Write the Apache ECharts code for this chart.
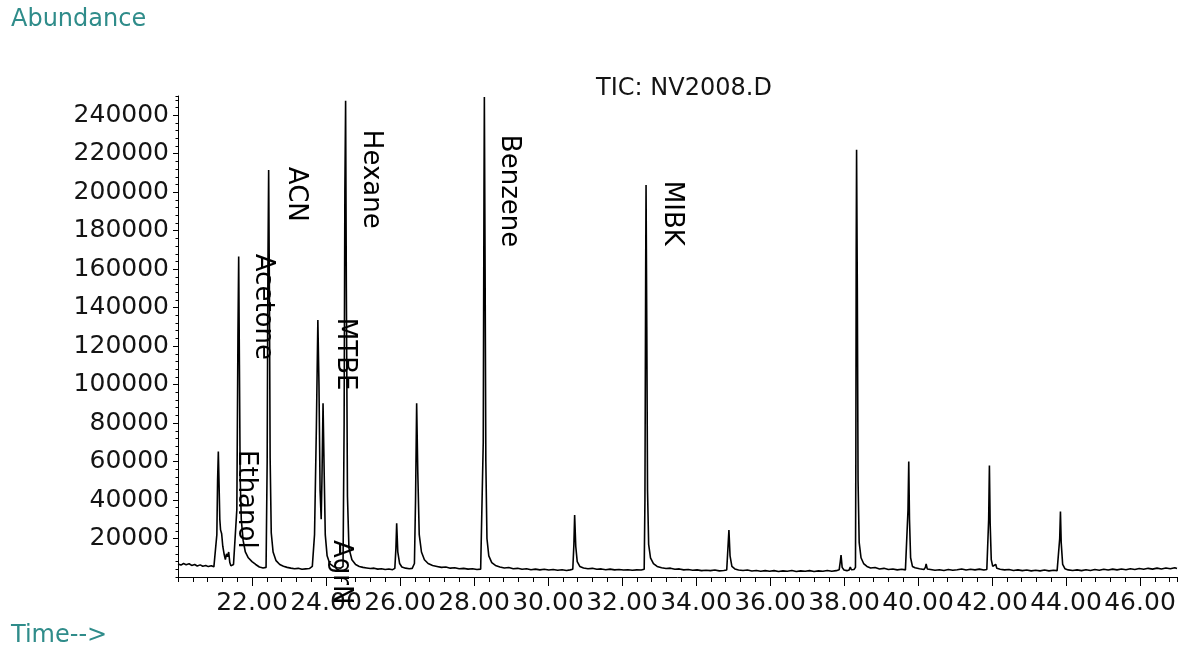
<!DOCTYPE html>
<html>
<head>
<meta charset="utf-8">
<script src="https://cdn.jsdelivr.net/npm/echarts@6/dist/echarts.min.js"></script>
<style>
html,body{margin:0;padding:0;background:#ffffff;}
#chart{width:1184px;height:646px;}
</style>
</head>
<body>
<div id="chart"></div>
<script>
// ---- texts ----
const chartTitle = 'TIC: NV2008.D';
const yAxisTitle = 'Abundance';
const xAxisTitle = 'Time-->';

// ---- total ion chromatogram: [retention time (min), abundance] ----
const ticTrace = [
  [20.00,6800],[20.08,6200],[20.15,7000],[20.22,6400],[20.30,6900],[20.37,6000],[20.45,6500],[20.52,5700],
  [20.60,6300],[20.67,5600],[20.75,6000],[20.82,5400],[20.90,5900],[20.97,5300],[21.02,6000],
  [21.05,22000],[21.07,50000],[21.09,65200],[21.11,48000],[21.13,30000],[21.15,24500],[21.18,22500],
  [21.21,16000],[21.25,11500],[21.28,9000],[21.31,12000],[21.34,10500],[21.37,13000],[21.40,7500],
  [21.43,5800],[21.50,6500],[21.55,7200],
  [21.59,35000],[21.62,125000],[21.64,166600],[21.66,110000],[21.68,52000],[21.71,30000],[21.76,19000],
  [21.82,13000],[21.90,10000],[22.00,8000],[22.10,6500],[22.20,5200],[22.30,4700],[22.38,5000],
  [22.41,60000],[22.43,160000],[22.45,211600],[22.47,150000],[22.49,62000],[22.52,23000],[22.57,13000],
  [22.65,8500],[22.75,6500],[22.85,5600],[22.95,5000],[23.05,4600],[23.15,4300],[23.25,4500],[23.35,4000],
  [23.45,4200],[23.55,4400],[23.63,5500],
  [23.69,22000],[23.74,78000],[23.78,133600],[23.81,100000],[23.84,45000],[23.87,30000],[23.89,50000],
  [23.92,90300],[23.95,55000],[23.98,22000],[24.03,11000],[24.10,7000],[24.20,5500],[24.30,4800],
  [24.40,4600],[24.46,5500],
  [24.49,80000],[24.51,200000],[24.53,247500],[24.55,150000],[24.58,42000],[24.62,15000],[24.70,9000],
  [24.80,6500],[24.90,5500],[25.00,5000],[25.10,4700],[25.20,4400],[25.30,4600],[25.40,4100],[25.50,4300],
  [25.60,3900],[25.70,4200],[25.80,3800],[25.86,4500],
  [25.89,15000],[25.91,27900],[25.94,13000],[25.99,7000],[26.05,5200],[26.15,4600],[26.25,4300],
  [26.33,4500],[26.39,7000],
  [26.42,40000],[26.45,90300],[26.48,55000],[26.52,22000],[26.58,13000],[26.66,9000],[26.76,7000],
  [26.88,6000],[27.00,5500],[27.12,5000],[27.24,5200],[27.36,4600],[27.48,4800],[27.60,4300],[27.72,4500],
  [27.84,4100],[27.96,4300],[28.08,3900],[28.18,4100],[28.23,5000],
  [28.25,70000],[28.27,200000],[28.28,249500],[28.30,160000],[28.32,60000],[28.35,20000],[28.40,11000],
  [28.48,7500],[28.58,6000],[28.70,5200],[28.82,4700],[28.94,4900],[29.06,4300],[29.18,4500],[29.30,4000],
  [29.42,4300],[29.54,3800],[29.66,4100],[29.78,3700],[29.90,4000],[30.02,3600],[30.14,3900],[30.26,3500],
  [30.38,3800],[30.50,3400],[30.60,3700],[30.67,4000],
  [30.70,17000],[30.72,32200],[30.75,16000],[30.79,8000],[30.86,5500],[30.96,4700],[31.08,4300],
  [31.20,4500],[31.32,4000],[31.44,4200],[31.56,3800],[31.68,4100],[31.80,3700],[31.92,3900],[32.04,3600],
  [32.16,3800],[32.28,3500],[32.40,3700],[32.52,3600],[32.60,4000],
  [32.62,40000],[32.64,160000],[32.65,203800],[32.67,130000],[32.69,45000],[32.72,17000],[32.77,10000],
  [32.85,7000],[32.95,5500],[33.07,4800],[33.19,4400],[33.31,4600],[33.43,4000],[33.55,4200],[33.67,3700],
  [33.79,3900],[33.91,3500],[34.03,3700],[34.15,3300],[34.27,3500],[34.39,3300],[34.44,4300],[34.51,3600],
  [34.63,3200],[34.75,3400],[34.83,3600],
  [34.86,14000],[34.89,24400],[34.92,11000],[34.97,5500],[35.05,4200],[35.15,3600],[35.27,3400],
  [35.39,3600],[35.51,3100],[35.63,3400],[35.75,3000],[35.87,3300],[35.99,3000],[36.11,3300],[36.23,2900],
  [36.35,3200],[36.47,3000],[36.59,3400],[36.71,2900],[36.83,3200],[36.95,3000],[37.07,3300],[37.19,2900],
  [37.31,3200],[37.43,3000],[37.55,3400],[37.67,3000],[37.79,3300],[37.87,3800],
  [37.90,8000],[37.92,11400],[37.95,5000],[38.00,3600],[38.08,3300],[38.14,3700],[38.17,5200],
  [38.20,3800],[38.27,3900],[38.31,5000],
  [38.32,60000],[38.33,170000],[38.34,222000],[38.36,150000],[38.38,50000],[38.41,18000],[38.46,10000],
  [38.53,7000],[38.62,5500],[38.72,4700],[38.84,4900],[38.96,4200],[39.08,4500],[39.20,3900],[39.32,4200],
  [39.44,3700],[39.56,4000],[39.66,3700],[39.71,4500],
  [39.73,35000],[39.75,60000],[39.77,30000],[39.80,10000],[39.85,5500],[39.92,4800],[40.04,4300],
  [40.16,3900],[40.20,5000],[40.22,6800],[40.25,4200],[40.34,3900],[40.46,3500],[40.58,3800],[40.70,3400],
  [40.82,3900],[40.94,3500],[41.06,3800],[41.18,4200],[41.30,3600],[41.42,4000],[41.54,3700],[41.66,4100],
  [41.78,3600],[41.86,3900],[41.89,4300],
  [41.91,30000],[41.93,57900],[41.95,28000],[41.98,9000],[42.02,5500],[42.07,4800],[42.10,6600],
  [42.13,4500],[42.22,4000],[42.34,3700],[42.46,3900],[42.58,3400],[42.70,3700],[42.82,3300],[42.94,3600],
  [43.06,3200],[43.18,3500],[43.30,3200],[43.42,3600],[43.54,3200],[43.66,3500],[43.76,3300],[43.81,3700],
  [43.83,20000],[43.85,34000],[43.87,18000],[43.91,6500],[43.97,4300],[44.06,3700],[44.18,3400],
  [44.30,3700],[44.42,3300],[44.54,3800],[44.66,3400],[44.78,3900],[44.90,3500],[45.02,4000],[45.14,3600],
  [45.26,4100],[45.38,3700],[45.50,4200],[45.62,3800],[45.74,4300],[45.86,3900],[45.98,4400],[46.10,4000],
  [46.22,4500],[46.34,4100],[46.46,4600],[46.58,4200],[46.70,4700],[46.82,4300],[46.94,4800],[47.00,4400]
];

// ---- peak annotations (rotated names): name, time of label, abundance where the text starts ----
const peakNames     = ['Ethanol', 'Acetone', 'ACN',  'AgrN', 'MTBE', 'Hexane', 'Benzene', 'MIBK'];
const peakLabelTime = [21.84,     22.30,     23.18,  24.39,  24.52,  25.20,    28.93,     33.34];
const peakLabelTop  = [66000,     168000,    213200, 19200,  134700, 232400,   229800,    205900];

// ---- axis scales ----
const xMin = 20, xMax = 47, xMajor = 2, xMinor = 0.4;
const yMin = 0, yMax = 250000, yMajor = 20000, yMinor = 4000;

const FONT = 'DejaVu Sans';
const TEAL = '#2f8c8a';
const INK = '#141414';

const chart = echarts.init(document.getElementById('chart'), null, {renderer: 'canvas'});
chart.setOption({
  animation: false,
  backgroundColor: '#ffffff',
  title: [
    {text: chartTitle, left: 679, top: 72, textAlign: 'center',
     textStyle: {fontFamily: FONT, fontSize: 24, fontWeight: 'normal', color: INK}},
    {text: yAxisTitle, left: 6, top: 3,
     textStyle: {fontFamily: FONT, fontSize: 24, fontWeight: 'normal', color: TEAL}},
    {text: xAxisTitle, left: 6, top: 619,
     textStyle: {fontFamily: FONT, fontSize: 24, fontWeight: 'normal', color: TEAL}}
  ],
  grid: {left: 178, right: 7, top: 96, bottom: 69, containLabel: false},
  xAxis: [
    {
      type: 'value', position: 'bottom', min: xMin, max: xMax, interval: xMajor,
      axisLine: {show: true, lineStyle: {color: '#000', width: 1}},
      axisTick: {show: true, length: 9, lineStyle: {color: '#000', width: 1}},
      axisLabel: {show: true, margin: 14, showMinLabel: false, showMaxLabel: false,
        fontFamily: FONT, fontSize: 25, color: INK,
        formatter: v => v.toFixed(2)},
      splitLine: {show: false}
    },
    {
      type: 'value', position: 'bottom', min: xMin, max: xMax, interval: xMinor,
      axisLine: {show: false},
      axisTick: {show: true, length: 5, lineStyle: {color: '#000', width: 1}},
      axisLabel: {show: false},
      splitLine: {show: false}
    }
  ],
  yAxis: [
    {
      type: 'value', position: 'left', min: yMin, max: yMax, interval: yMajor,
      axisLine: {show: true, lineStyle: {color: '#000', width: 1}},
      axisTick: {show: true, length: 5, lineStyle: {color: '#000', width: 1}},
      axisLabel: {show: true, margin: 9, showMinLabel: false, showMaxLabel: false,
        fontFamily: FONT, fontSize: 25, color: INK,
        formatter: v => String(Math.round(v))},
      splitLine: {show: false}
    },
    {
      type: 'value', position: 'left', min: yMin, max: yMax, interval: yMinor,
      axisLine: {show: false},
      axisTick: {show: true, length: 2.5, lineStyle: {color: '#000', width: 1}},
      axisLabel: {show: false},
      splitLine: {show: false}
    }
  ],
  series: [
    {
      name: 'TIC', type: 'line', xAxisIndex: 0, yAxisIndex: 0,
      data: ticTrace, showSymbol: false, symbol: 'none', smooth: false,
      lineStyle: {color: '#000', width: 1.6}, clip: true, z: 2
    },
    {
      name: 'labels', type: 'scatter', xAxisIndex: 0, yAxisIndex: 0,
      symbolSize: 0, silent: true, z: 3, clip: false,
      data: peakNames.map((n, i) => [peakLabelTime[i], peakLabelTop[i], n]),
      itemStyle: {opacity: 1},
      label: {
        show: true, position: 'inside', rotate: -90, align: 'left', verticalAlign: 'middle',
        fontFamily: FONT, fontSize: 26, color: '#000', opacity: 1,
        formatter: p => p.data[2]
      }
    }
  ]
});
</script>
</body>
</html>
